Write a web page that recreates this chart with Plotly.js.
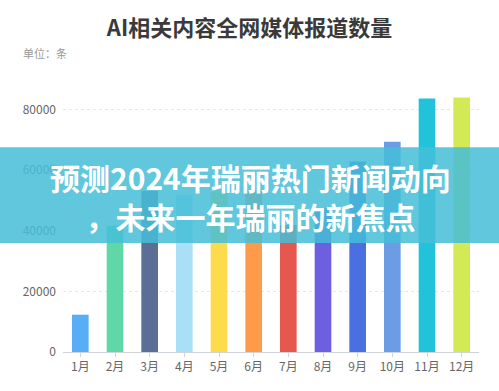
<!DOCTYPE html>
<html>
<head>
<meta charset="utf-8">
<script src="https://cdn.plot.ly/plotly-3.0.1.min.js"></script>
<style>html,body{margin:0;padding:0;background:#fff;}#chart{width:499px;height:391px;}</style>
</head>
<body>
<div id="chart"></div>
<script>
const months = ['1月','2月','3月','4月','5月','6月','7月','8月','9月','10月','11月','12月'];
const counts = [12300, 41600, 53200, 51800, 52900, 53400, 41900, 47500, 62800, 69300, 83600, 83900];
const barColors = ['#58aef5','#60d7a7','#5b6e96','#a9dff7','#fedb4c','#fe9a4a','#e5574f','#6c60e0','#4b6ee0','#6b9ce4','#21c3db','#d3e956'];
const yTicks = [0, 20000, 40000, 60000, 80000];
const chartTitle = 'AI相关内容全网媒体报道数量';
const unitLabel = '单位：条';
const bannerLine1 = '预测2024年瑞丽热门新闻动向';
const bannerLine2 = '，未来一年瑞丽的新焦点';

const cjk = '"Noto Sans CJK SC", "Noto Sans", sans-serif';

const trace = {
  type: 'bar',
  x: months,
  y: counts,
  marker: {color: barColors, line: {width: 0}},
  width: 0.48,
  hoverinfo: 'skip'
};

const layout = {
  width: 499, height: 391,
  margin: {l: 63, r: 20, t: 78.5, b: 38.5},
  paper_bgcolor: '#ffffff',
  plot_bgcolor: '#ffffff',
  showlegend: false,
  title: {
    text: chartTitle,
    font: {family: cjk, size: 22, color: '#3a3a3a', weight: 'bold'},
    x: 0.5, xanchor: 'center',
    y: 1 - 28/391, yanchor: 'middle'
  },
  xaxis: {
    type: 'category',
    showgrid: false,
    showline: true, linecolor: '#cfd3da', linewidth: 1,
    ticks: 'outside', ticklen: 4, tickcolor: '#cfd3da',
    tickfont: {family: cjk, size: 12, color: '#666666'},
    zeroline: false,
    fixedrange: true
  },
  yaxis: {
    range: [0, 90000],
    tickvals: yTicks,
    ticktext: yTicks.map(String),
    showgrid: true, gridcolor: '#e6e6e6', griddash: 'dot', gridwidth: 1,
    zeroline: false, showline: false, ticks: '',
    ticklabelstandoff: 6,
    tickfont: {family: cjk, size: 12, color: '#666666'},
    fixedrange: true
  },
  shapes: [{
    type: 'rect', layer: 'above',
    xref: 'paper', yref: 'paper',
    x0: -63/416, x1: (499-63)/416,
    y0: (352.5-243)/274, y1: (352.5-147)/274,
    fillcolor: 'rgba(70,190,215,0.86)',
    line: {width: 0}
  }],
  annotations: [
    {
      text: unitLabel, xref: 'paper', yref: 'paper',
      x: (21-63)/416, y: (352.5-52)/274, xanchor: 'left', yanchor: 'middle',
      showarrow: false, font: {family: cjk, size: 11, color: '#999999'}
    },
    {
      text: bannerLine1 + '<br>' + bannerLine2, xref: 'paper', yref: 'paper',
      x: (250.5-63)/416, y: (352.5-196)/274, xanchor: 'center', yanchor: 'middle',
      align: 'center',
      showarrow: false, font: {family: cjk, size: 30, color: '#ffffff', weight: 'bold'}
    }
  ]
};

Plotly.newPlot('chart', [trace], layout, {displayModeBar: false, staticPlot: true});
</script>
</body>
</html>
